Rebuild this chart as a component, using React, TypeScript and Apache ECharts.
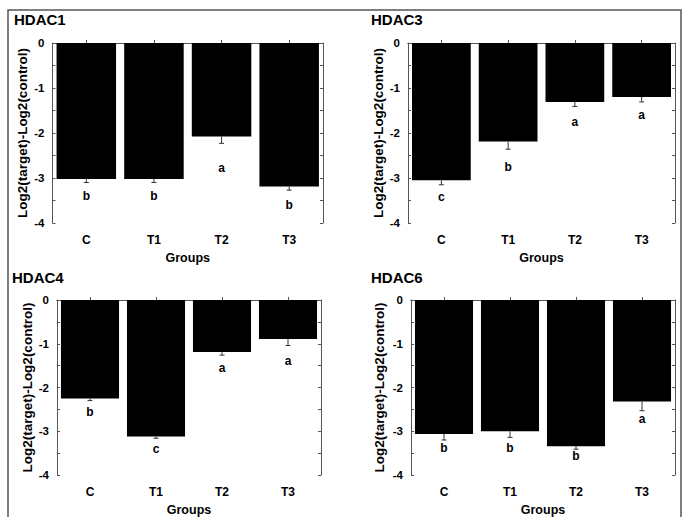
import React, { useEffect, useRef } from "react";
import * as echarts from "echarts";

const categories = ["C", "T1", "T2", "T3"];
const geneNames = ["HDAC1", "HDAC3", "HDAC4", "HDAC6"];

const hdac1Values = [-3.02, -3.02, -2.08, -3.19];
const hdac1Errors = [0.08, 0.08, 0.15, 0.08];
const hdac1Letters = ["b", "b", "a", "b"];
const hdac1LetterY = [-3.41, -3.41, -2.77, -3.59];

const hdac3Values = [-3.05, -2.19, -1.31, -1.2];
const hdac3Errors = [0.1, 0.17, 0.1, 0.11];
const hdac3Letters = ["c", "b", "a", "a"];
const hdac3LetterY = [-3.43, -2.76, -1.75, -1.59];

const hdac4Values = [-2.25, -3.12, -1.19, -0.89];
const hdac4Errors = [0.05, 0.04, 0.07, 0.15];
const hdac4Letters = ["b", "c", "a", "a"];
const hdac4LetterY = [-2.56, -3.4, -1.55, -1.4];

const hdac6Values = [-3.06, -3.0, -3.34, -2.32];
const hdac6Errors = [0.14, 0.14, 0.07, 0.21];
const hdac6Letters = ["b", "b", "b", "a"];
const hdac6LetterY = [-3.38, -3.38, -3.56, -2.72];

const yMin = -4;
const yMax = 0;
const yInterval = 1;
const yAxisName = "Log2(target)-Log2(control)";
const xAxisName = "Groups";

const panels = [
  { values: hdac1Values, errors: hdac1Errors, letters: hdac1Letters, letterY: hdac1LetterY },
  { values: hdac3Values, errors: hdac3Errors, letters: hdac3Letters, letterY: hdac3LetterY },
  { values: hdac4Values, errors: hdac4Errors, letters: hdac4Letters, letterY: hdac4LetterY },
  { values: hdac6Values, errors: hdac6Errors, letters: hdac6Letters, letterY: hdac6LetterY },
];

// layout (pixels)
const grids = [
  { left: 52.5, top: 43, width: 270.5, height: 180 },
  { left: 408, top: 43, width: 267, height: 180 },
  { left: 57, top: 300, width: 264, height: 181 },
  { left: 411, top: 300, width: 264, height: 181 },
];
const titlePos = [
  { left: 14, top: 12 },
  { left: 371, top: 12 },
  { left: 12, top: 270 },
  { left: 371, top: 270 },
];
const yNameGaps = [23, 20, 23, 25];

const FONT = "'Liberation Sans', Arial, Helvetica, sans-serif";
const AXIS_COLOR = "#555";

export default function App() {
  const ref = useRef<HTMLDivElement>(null);

  useEffect(() => {
    if (!ref.current) return;
    const chart = echarts.init(ref.current, null, { renderer: "svg" });

    const xAxes: any[] = [];
    const yAxes: any[] = [];
    const series: any[] = [];

    grids.forEach((_, i) => {
      xAxes.push({
        type: "category",
        gridIndex: i,
        data: categories,
        position: "bottom",
        axisLine: { show: true, lineStyle: { color: AXIS_COLOR, width: 1 } },
        axisTick: { show: true, alignWithLabel: true, length: 3, lineStyle: { color: AXIS_COLOR } },
        axisLabel: {
          show: true,
          margin: 11,
          color: "#000",
          fontSize: 12,
          fontWeight: "bold",
          fontFamily: FONT,
        },
        name: xAxisName,
        nameLocation: "middle",
        nameGap: 28,
        nameTextStyle: { color: "#000", fontSize: 12.5, fontWeight: "bold", fontFamily: FONT },
        splitLine: { show: false },
      });
    });
    grids.forEach((_, i) => {
      xAxes.push({
        type: "category",
        gridIndex: i,
        data: categories,
        position: "top",
        axisLine: { show: true, lineStyle: { color: AXIS_COLOR, width: 1 } },
        axisTick: { show: true, alignWithLabel: true, length: 3, lineStyle: { color: AXIS_COLOR } },
        axisLabel: { show: false },
        splitLine: { show: false },
      });
    });
    grids.forEach((_, i) => {
      yAxes.push({
        type: "value",
        gridIndex: i,
        position: "left",
        min: yMin,
        max: yMax,
        interval: yInterval,
        axisLine: { show: true, lineStyle: { color: AXIS_COLOR, width: 1 } },
        axisTick: { show: true, inside: true, length: 3, lineStyle: { color: AXIS_COLOR } },
        minorTick: { show: true, splitNumber: 2, length: 3, lineStyle: { color: AXIS_COLOR } },
        axisLabel: {
          show: true,
          margin: 8,
          color: "#000",
          fontSize: 11.5,
          fontWeight: "bold",
          fontFamily: FONT,
        },
        splitLine: { show: false },
        name: yAxisName,
        nameLocation: "middle",
        nameRotate: 90,
        nameGap: yNameGaps[i],
        nameTextStyle: { color: "#000", fontSize: 13.5, fontWeight: "bold", fontFamily: FONT },
      });
    });
    grids.forEach((_, i) => {
      yAxes.push({
        type: "value",
        gridIndex: i,
        position: "right",
        min: yMin,
        max: yMax,
        interval: yInterval,
        axisLine: { show: true, lineStyle: { color: AXIS_COLOR, width: 1 } },
        axisTick: { show: true, inside: true, length: 3, lineStyle: { color: AXIS_COLOR } },
        minorTick: { show: true, splitNumber: 2, length: 3, lineStyle: { color: AXIS_COLOR } },
        axisLabel: { show: false },
        splitLine: { show: false },
      });
    });

    panels.forEach((p, i) => {
      series.push({
        type: "bar",
        xAxisIndex: i,
        yAxisIndex: i,
        data: p.values,
        barCategoryGap: "12%",
        itemStyle: { color: "#000" },
        silent: true,
        z: 2,
      });
      series.push({
        type: "custom",
        xAxisIndex: i,
        yAxisIndex: i,
        data: p.values.map((v, k) => [k, v, p.errors[k], p.letterY[k]]),
        encode: { x: 0, y: 1 },
        z: 3,
        silent: true,
        renderItem: (params: any, api: any) => {
          const x = api.value(0);
          const v = api.value(1);
          const e = api.value(2);
          const ly = api.value(3);
          const p0 = api.coord([x, v]);
          const p1 = api.coord([x, v - e]);
          const pl = api.coord([x, ly]);
          const st = { stroke: "#333", lineWidth: 1 };
          return {
            type: "group",
            children: [
              { type: "line", shape: { x1: p0[0], y1: p0[1], x2: p1[0], y2: p1[1] }, style: st },
              { type: "line", shape: { x1: p1[0] - 2.5, y1: p1[1], x2: p1[0] + 2.5, y2: p1[1] }, style: st },
              {
                type: "text",
                x: pl[0],
                y: pl[1],
                style: {
                  text: p.letters[params.dataIndex],
                  fill: "#000",
                  font: `bold 12px ${FONT}`,
                  align: "center",
                  verticalAlign: "middle",
                },
              },
            ],
          };
        },
      });
    });

    chart.setOption({
      animation: false,
      backgroundColor: "#fff",
      title: geneNames.map((g, i) => ({
        text: g,
        left: titlePos[i].left,
        top: titlePos[i].top,
        padding: 0,
        textStyle: { color: "#000", fontSize: 15, fontWeight: "bold", fontFamily: FONT },
      })),
      grid: grids.map((g) => ({
        left: g.left,
        top: g.top,
        width: g.width,
        height: g.height,
        containLabel: false,
      })),
      xAxis: xAxes,
      yAxis: yAxes,
      series,
      graphic: [
        {
          type: "polyline",
          shape: { points: [[8, 540], [8, 10], [681, 10], [681, 540]] },
          style: { stroke: "#555", lineWidth: 1.5, fill: "none" },
          silent: true,
        },
      ],
    });

    return () => chart.dispose();
  }, []);

  return (
    <div
      ref={ref}
      style={{ position: "absolute", left: 0, top: 0, width: 685, height: 517, background: "#fff" }}
    />
  );
}
